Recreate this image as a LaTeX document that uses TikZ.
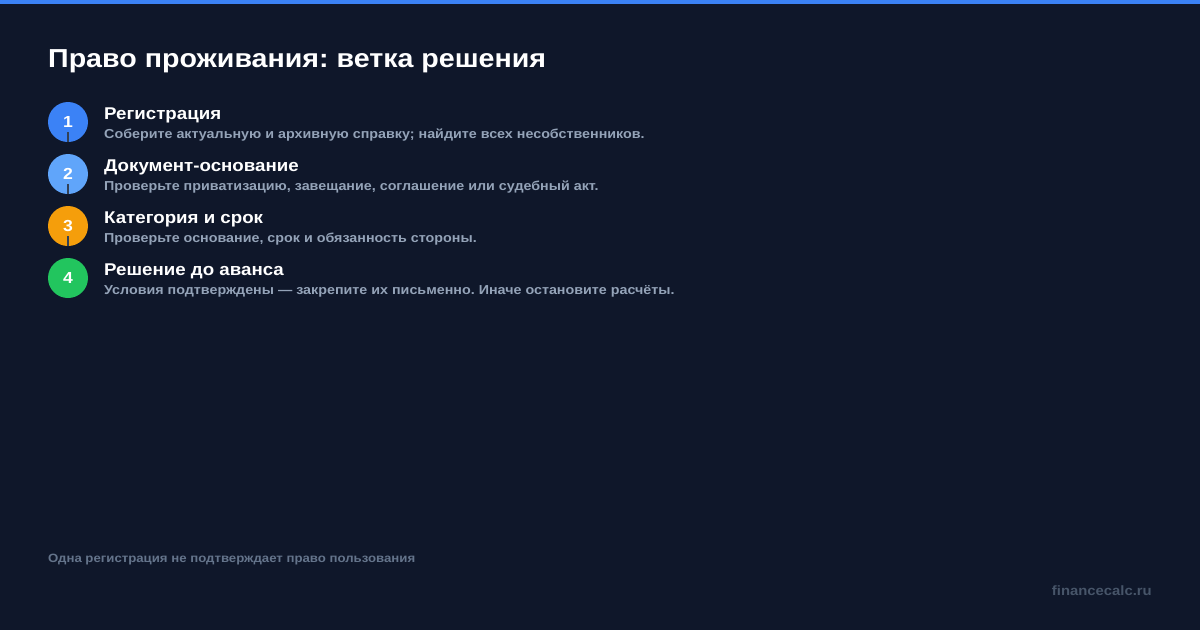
\documentclass[tikz,border=0pt]{standalone}
\usepackage{fontspec}
\setmainfont[FakeStretch=1.1]{Liberation Sans}
\definecolor{bg}{HTML}{0F172A}
\definecolor{topbar}{HTML}{3B82F6}
\definecolor{cone}{HTML}{3B82F6}
\definecolor{ctwo}{HTML}{60A5FA}
\definecolor{cthree}{HTML}{F59E0B}
\definecolor{cfour}{HTML}{22C55E}
\definecolor{desc}{HTML}{94A3B8}
\definecolor{foot}{HTML}{64748B}
\definecolor{brand}{HTML}{475569}
\definecolor{link}{HTML}{334155}
\frenchspacing
\begin{document}
\begin{tikzpicture}[x=1pt,y=-1pt,
  stepcirc/.style={circle,minimum size=40pt,inner sep=0pt,text=white,font=\bfseries\fontsize{16}{16}\selectfont},
  steptitle/.style={anchor=base west,inner sep=0pt,text=white,font=\bfseries\fontsize{17}{17}\selectfont},
  stepdesc/.style={anchor=base west,inner sep=0pt,text=desc,font=\bfseries\fontsize{13}{13}\selectfont},
  linkline/.style={draw=link,line width=1.5pt}]
\fill[bg] (0,0) rectangle (1200,630);
\useasboundingbox (0,0) rectangle (1200,630);
\fill[topbar] (0,0) rectangle (1200,4);
\node[anchor=base west,inner sep=0pt,text=white,font=\bfseries\fontsize{26}{26}\selectfont] (title) at (48,67) {Право проживания: ветка решения};
\node[stepcirc,fill=cone] (c1) at (68,122) {1};
\node[stepcirc,fill=ctwo] (c2) at (68,174) {2};
\node[stepcirc,fill=cthree] (c3) at (68,226) {3};
\node[stepcirc,fill=cfour] (c4) at (68,278) {4};
\coordinate (l1) at (68,132);
\coordinate (l2) at (68,184);
\coordinate (l3) at (68,236);
\draw[linkline] (l1) -- (c1.south);
\draw[linkline] (l2) -- (c2.south);
\draw[linkline] (l3) -- (c3.south);
\node[steptitle] (t1) at (104,119) {Регистрация};
\node[stepdesc] (d1) at (104,138) {Соберите актуальную и архивную справку; найдите всех несобственников.};
\node[steptitle] (t2) at (104,171) {Документ-основание};
\node[stepdesc] (d2) at (104,190) {Проверьте приватизацию, завещание, соглашение или судебный акт.};
\node[steptitle] (t3) at (104,223) {Категория и срок};
\node[stepdesc] (d3) at (104,242) {Проверьте основание, срок и обязанность стороны.};
\node[steptitle] (t4) at (104,275) {Решение до аванса};
\node[stepdesc] (d4) at (104,294) {Условия подтверждены — закрепите их письменно. Иначе остановите расчёты.};
\node[anchor=base west,inner sep=0pt,text=foot,font=\bfseries\fontsize{12}{12}\selectfont] (note) at (48,562) {Одна регистрация не подтверждает право пользования};
\node[anchor=base east,inner sep=0pt,text=brand,font=\bfseries\fontsize{13.5}{13.5}\selectfont] (brand) at (1152,595) {financecalc.ru};
\end{tikzpicture}
\end{document}
